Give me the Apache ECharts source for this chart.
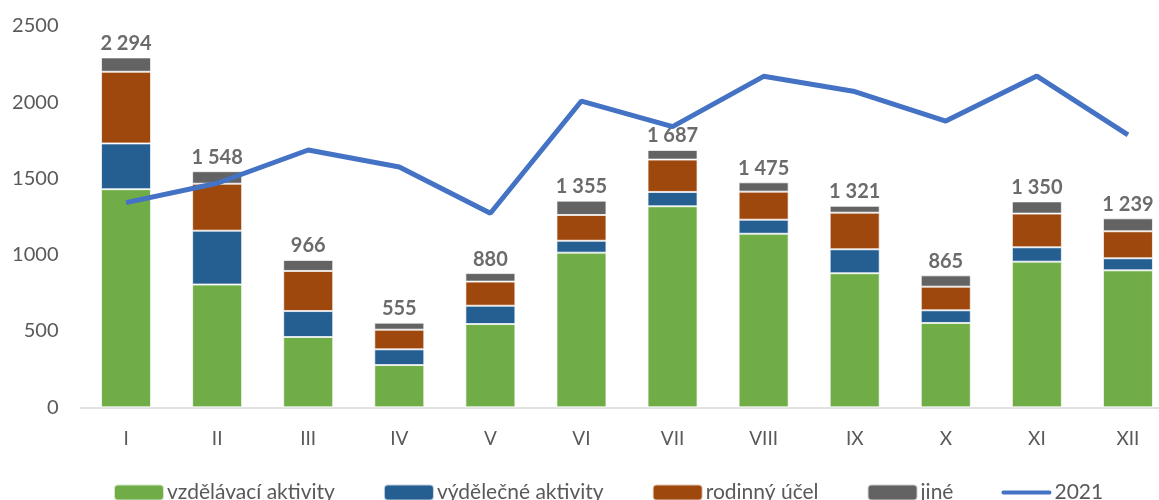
<!DOCTYPE html>
<html>
<head>
<meta charset="utf-8">
<script src="https://cdn.jsdelivr.net/npm/echarts@6/dist/echarts.min.js"></script>
<style>
  html, body { margin: 0; padding: 0; background: #fff; }
  #chart { width: 1159px; height: 500px; }
</style>
</head>
<body>
<div id="chart"></div>
<script>
    // data
    var months = ['I', 'II', 'III', 'IV', 'V', 'VI', 'VII', 'VIII', 'IX', 'X', 'XI', 'XII'];
    var vzdelavaci = [1430, 805, 461, 277, 546, 1014, 1318, 1138, 879, 553, 955, 898];
    var vydelecne = [300, 353, 170, 103, 120, 78, 94, 92, 157, 83, 94, 79];
    var rodinny = [470, 308, 263, 129, 158, 169, 212, 184, 240, 155, 221, 177];
    var jine = [94, 82, 72, 46, 56, 94, 63, 61, 45, 74, 80, 85];
    var totals = [2294, 1548, 966, 555, 880, 1355, 1687, 1475, 1321, 865, 1350, 1239];
    var line2021 = [1342, 1469, 1687, 1575, 1272, 2008, 1840, 2170, 2070, 1877, 2172, 1786];
    var yTicks = [0, 500, 1000, 1500, 2000, 2500];

    var fontName = 'Lato';
    var myChart = echarts.init(document.getElementById('chart'));

    function fmt(v) {
        return String(v).replace(/\B(?=(\d{3})+(?!\d))/g, ' ');
    }

    var barBorder = { borderColor: 'rgba(255,255,255,0.7)', borderWidth: 1 };

    option = {
        animation: false,
        textStyle: { fontFamily: fontName },
        grid: { left: 80.5, top: 26, width: 1093, height: 381.3, outerBoundsMode: 'none', containLabel: false },
        legend: {
            top: 477,
            left: 108,
            itemWidth: 50,
            itemHeight: 16,
            itemGap: 48,
            textStyle: { fontSize: 21, color: '#595959', fontFamily: fontName, padding: [0, 0, 0, -2] },
            data: [
                'vzdělávací aktivity', 'výdělečné aktivity', 'rodinný účel', 'jiné',
                { name: '2021', icon: 'path://M0,0 L0.01,0 M0,16 L0.01,16 M2,6 L50,6 A2,2 0 0 1 50,10 L2,10 A2,2 0 0 1 2,6 Z' }
            ]
        },
        xAxis: {
            type: 'category',
            data: months,
            axisLine: { lineStyle: { color: '#d9d9d9', width: 1.5 } },
            axisTick: { show: false },
            axisLabel: { color: '#595959', fontSize: 19, margin: 22 }
        },
        yAxis: {
            type: 'value',
            min: yTicks[0],
            max: yTicks[yTicks.length - 1],
            interval: 500,
            splitLine: { show: false },
            axisLine: { show: false },
            axisTick: { show: false },
            axisLabel: {
                color: '#595959', fontSize: 20, margin: 22,
                formatter: function (v) { return String(v); }
            }
        },
        series: [
            {
                name: 'vzdělávací aktivity', type: 'bar', stack: 'a', barWidth: 50,
                itemStyle: Object.assign({ color: '#70AD47' }, barBorder),
                data: vzdelavaci
            },
            {
                name: 'výdělečné aktivity', type: 'bar', stack: 'a',
                itemStyle: Object.assign({ color: '#255E91' }, barBorder),
                data: vydelecne
            },
            {
                name: 'rodinný účel', type: 'bar', stack: 'a',
                itemStyle: Object.assign({ color: '#9E480E' }, barBorder),
                data: rodinny
            },
            {
                name: 'jiné', type: 'bar', stack: 'a',
                itemStyle: Object.assign({ color: '#636363' }, barBorder),
                label: {
                    show: true,
                    position: 'top',
                    distance: 4,
                    color: '#6b6b6b',
                    fontWeight: 'bold',
                    fontSize: 20,
                    formatter: function (p) { return fmt(totals[p.dataIndex]); }
                },
                data: jine
            },
            {
                name: '2021', type: 'line',
                symbol: 'none',
                z: 5,
                lineStyle: { color: '#4472C4', width: 5 },
                itemStyle: { color: '#4472C4' },
                data: line2021
            }
        ]
    };

    myChart.setOption(option);
</script>
</body>
</html>
